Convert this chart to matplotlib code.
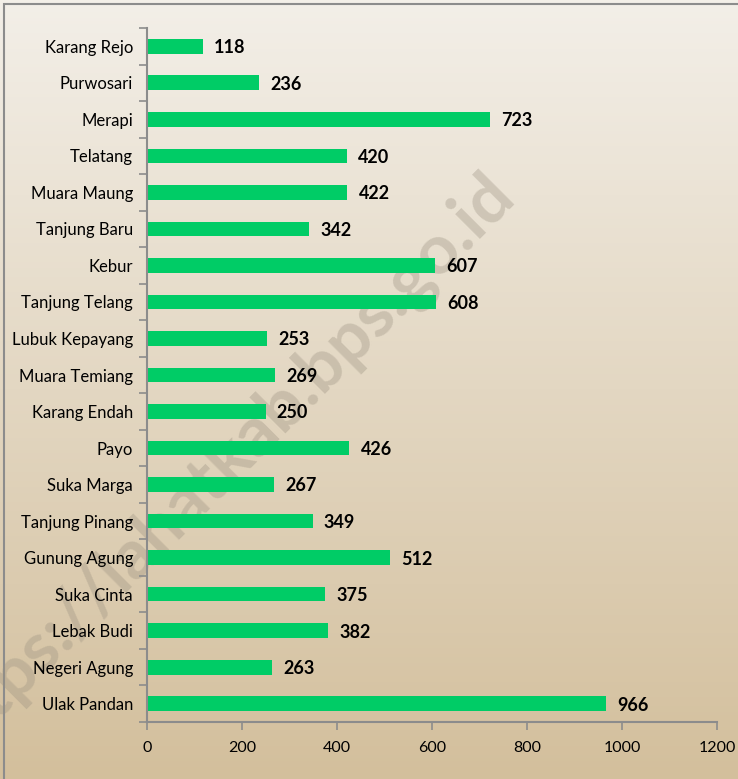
import matplotlib
matplotlib.use("Agg")
import matplotlib.pyplot as plt
import matplotlib.patches as patches
import numpy as np

plt.rcParams['font.family'] = ['Lato', 'DejaVu Sans']

desa = ["Karang Rejo", "Purwosari", "Merapi", "Telatang", "Muara Maung",
        "Tanjung Baru", "Kebur", "Tanjung Telang", "Lubuk Kepayang",
        "Muara Temiang", "Karang Endah", "Payo", "Suka Marga",
        "Tanjung Pinang", "Gunung Agung", "Suka Cinta", "Lebak Budi",
        "Negeri Agung", "Ulak Pandan"]
nilai = [118, 236, 723, 420, 422, 342, 607, 608, 253, 269, 250, 426, 267,
         349, 512, 375, 382, 263, 966]
xticks = [0, 200, 400, 600, 800, 1000, 1200]

W, H = 738, 779
fig = plt.figure(figsize=(W / 100, H / 100), dpi=100)

# background gradient
bg = fig.add_axes([0, 0, 1, 1], zorder=0)
grad = np.linspace(0, 1, 256).reshape(-1, 1)
top = np.array([0xF3, 0xEF, 0xE8]) / 255
bot = np.array([0xD3, 0xBF, 0x9C]) / 255
img = top + (bot - top) * grad[:, :, None]
bg.imshow(img, aspect='auto', extent=[0, 1, 0, 1], origin='upper')
# only top and left border are visible in the crop
bg.add_patch(patches.Rectangle((4 / W, -0.1), 1.2, 1.1 - 4 / H, fill=False,
                               edgecolor='#8c8c8c', linewidth=1.5,
                               transform=bg.transAxes, clip_on=True))
bg.set_xlim(0, 1)
bg.set_ylim(0, 1)
bg.axis('off')

# watermark (cut off at the left edge, as in the source)
bg.text(0.30, 0.40, "https://lahatkab.bps.go.id", rotation=45,
        fontsize=50, fontweight='bold', color='#9a9080', alpha=0.35,
        ha='center', va='center', transform=bg.transAxes)

ax = fig.add_axes([147 / W, 1 - 722 / H, 570 / W, 694 / H], zorder=1)
ax.patch.set_alpha(0)
y = np.arange(len(desa))
ax.barh(y, nilai, height=0.4, color='#00CC66')
ax.set_xlim(0, 1200)
ax.set_ylim(len(desa) - 0.5, -0.5)
ax.set_xticks(xticks)
ax.set_xticklabels([str(t) for t in xticks])
ax.set_yticks(y)
ax.set_yticklabels(desa)
ax.set_yticks(np.arange(-0.5, len(desa)), minor=True)
ax.tick_params(axis='y', which='major', length=0, pad=10, labelsize=12)
ax.tick_params(axis='y', which='minor', length=6, color='#8c8c8c', width=1.2)
ax.tick_params(axis='x', length=6, color='#8c8c8c', width=1.2, labelsize=11.5, pad=8)
for s in ['top', 'right']:
    ax.spines[s].set_visible(False)
for s in ['left', 'bottom']:
    ax.spines[s].set_color('#8c8c8c')
    ax.spines[s].set_linewidth(1.5)

for yi, v in zip(y, nilai):
    ax.annotate(str(v), (v, yi), xytext=(8, -1), textcoords='offset points',
                ha='left', va='center', fontsize=13, fontweight='bold',
                color='black')

fig.savefig("out.png", dpi=100)
